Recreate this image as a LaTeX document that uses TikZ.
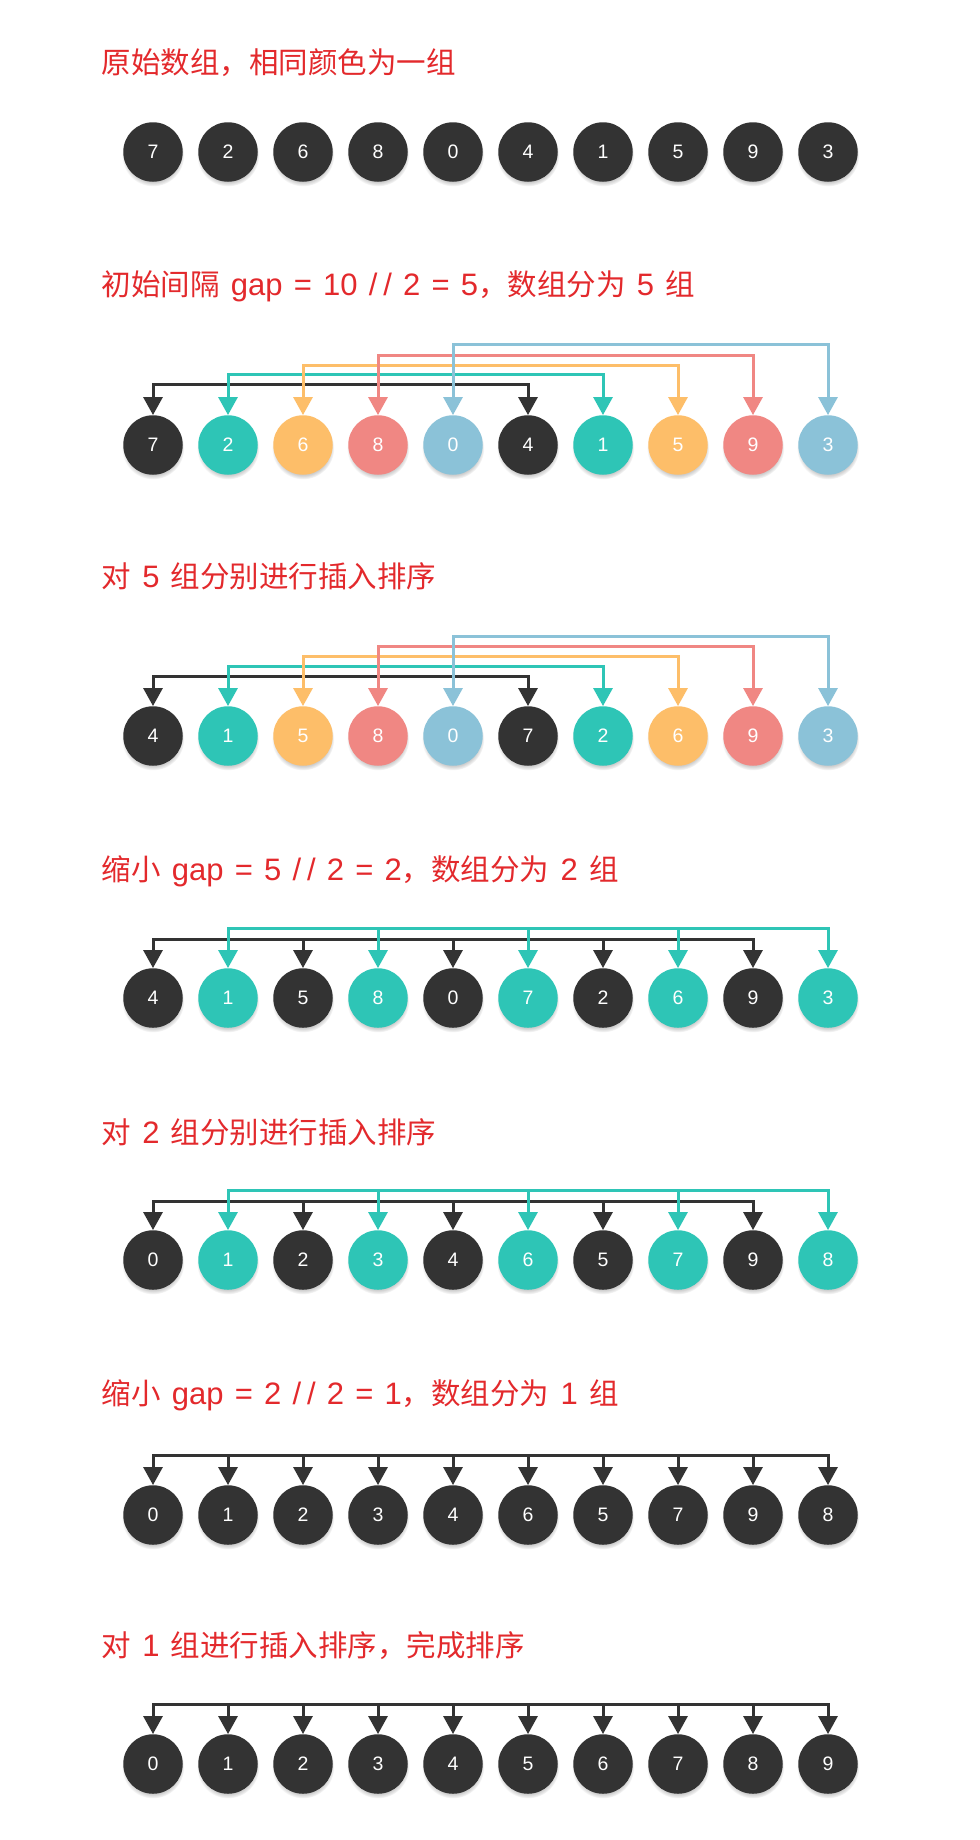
\documentclass[tikz,border=0pt]{standalone}
\usepackage{fontspec}
\newfontfamily\cjkfont{Noto Sans CJK SC}
\newfontfamily\numfont{Liberation Sans}
\newfontfamily\latfont[WordSpace=1.3]{Liberation Sans}
\usepackage{tikz}
\usetikzlibrary{arrows.meta}
\usetikzlibrary{shadows,fadings}
\definecolor{dark}{HTML}{333333}
\definecolor{tealc}{HTML}{2EC5B6}
\definecolor{orangec}{HTML}{FDBE69}
\definecolor{pinkc}{HTML}{F08783}
\definecolor{bluec}{HTML}{8BC2D8}
\definecolor{titlered}{HTML}{E3292C}

\newcommand\ballrow[3]{%
  \foreach \v/\c [count=\i from 0] in {#3}
    \node[ball=\c] (#1-\i) at (153+75*\i,#2) {\v};}
\newcommand\lat[1]{{\latfont\fontsize{31}{31}\selectfont #1}}
\newcommand\slashes{/\kern6pt/}

\begin{document}
\begin{tikzpicture}
    [x=1pt,y=-1pt,line join=miter,
     ball/.style={circle,minimum size=59.5pt,inner sep=0pt,fill=#1,text=white,
       font=\numfont\fontsize{19.5}{20}\selectfont,
       circular drop shadow={shadow xshift=0pt,shadow yshift=-3pt,shadow scale=1.05,opacity=0.4}},
     title/.style={anchor=base west,inner sep=0pt,text=titlered,font=\cjkfont\fontsize{29.5}{30}\selectfont},
     link/.style={draw=#1,line width=3pt,-{Triangle[width=19pt,length=18pt]}},
     bothlink/.style={link=#1,{Triangle[width=19pt,length=18pt]}-{Triangle[width=19pt,length=18pt]}}]
%page
 \fill[white] (0,0) rectangle (980,1840);
 \useasboundingbox (0,0) rectangle (980,1840);

%titles
 \node[title] (t1) at (101.5,73) {原始数组，相同颜色为一组};
 \node[title] (t2) at (101.5,295) {初始间隔\lat{ gap = 10 \slashes{} 2 = 5}，数组分为\lat{ 5 }组};
 \node[title] (t3) at (101.5,587) {对\lat{ 5 }组分别进行插入排序};
 \node[title] (t4) at (101.5,880) {缩小\lat{ gap = 5 \slashes{} 2 = 2}，数组分为\lat{ 2 }组};
 \node[title] (t5) at (101.5,1143) {对\lat{ 2 }组分别进行插入排序};
 \node[title] (t6) at (101.5,1404) {缩小\lat{ gap = 2 \slashes{} 2 = 1}，数组分为\lat{ 1 }组};
 \node[title] (t7) at (101.5,1656) {对\lat{ 1 }组进行插入排序，完成排序};

%rows of balls
 \ballrow{r1}{152}{7/dark,2/dark,6/dark,8/dark,0/dark,4/dark,1/dark,5/dark,9/dark,3/dark}
 \ballrow{r2}{445}{7/dark,2/tealc,6/orangec,8/pinkc,0/bluec,4/dark,1/tealc,5/orangec,9/pinkc,3/bluec}
 \ballrow{r3}{736}{4/dark,1/tealc,5/orangec,8/pinkc,0/bluec,7/dark,2/tealc,6/orangec,9/pinkc,3/bluec}
 \ballrow{r4}{998}{4/dark,1/tealc,5/dark,8/tealc,0/dark,7/tealc,2/dark,6/tealc,9/dark,3/tealc}
 \ballrow{r5}{1260}{0/dark,1/tealc,2/dark,3/tealc,4/dark,6/tealc,5/dark,7/tealc,9/dark,8/tealc}
 \ballrow{r6}{1515}{0/dark,1/dark,2/dark,3/dark,4/dark,6/dark,5/dark,7/dark,9/dark,8/dark}
 \ballrow{r7}{1764}{0/dark,1/dark,2/dark,3/dark,4/dark,5/dark,6/dark,7/dark,8/dark,9/dark}

%levels of the group lines
 \coordinate (r2-l0) at (0,384.5);
 \coordinate (r2-l1) at (0,374.5);
 \coordinate (r2-l2) at (0,365);
 \coordinate (r2-l3) at (0,355);
 \coordinate (r2-l4) at (0,344.5);
 \coordinate (r3-l0) at (0,676);
 \coordinate (r3-l1) at (0,666);
 \coordinate (r3-l2) at (0,656.5);
 \coordinate (r3-l3) at (0,646.5);
 \coordinate (r3-l4) at (0,636.5);
 \coordinate (r4-l0) at (0,939);
 \coordinate (r4-l1) at (0,928.5);
 \coordinate (r5-l0) at (0,1201);
 \coordinate (r5-l1) at (0,1190);
 \coordinate (r6-l0) at (0,1455);
 \coordinate (r7-l0) at (0,1704);

%gap = 5, five groups
 \foreach \r in {r2,r3}{
   \foreach \a/\c [count=\k from 0] in {0/dark,1/tealc,2/orangec,3/pinkc,4/bluec}{
     \pgfmathtruncatemacro\b{\a+5}
     \draw[bothlink=\c] (\r-\a.north) |- (\r-\b.north |- \r-l\k) -- (\r-\b.north);
   }
 }

%gap = 2, two groups
 \foreach \r in {r4,r5}{
   \draw[bothlink=dark] (\r-0.north) |- (\r-8.north |- \r-l0) -- (\r-8.north);
   \foreach \i in {2,4,6}
     \draw[link=dark] (\r-\i.north |- \r-l0) -- (\r-\i.north);
   \draw[bothlink=tealc] (\r-1.north) |- (\r-9.north |- \r-l1) -- (\r-9.north);
   \foreach \i in {3,5,7}
     \draw[link=tealc] (\r-\i.north |- \r-l1) -- (\r-\i.north);
 }

%gap = 1, one group
 \foreach \r in {r6,r7}{
   \draw[bothlink=dark] (\r-0.north) |- (\r-9.north |- \r-l0) -- (\r-9.north);
   \foreach \i in {1,...,8}
     \draw[link=dark] (\r-\i.north |- \r-l0) -- (\r-\i.north);
 }

\end{tikzpicture}
\end{document}
